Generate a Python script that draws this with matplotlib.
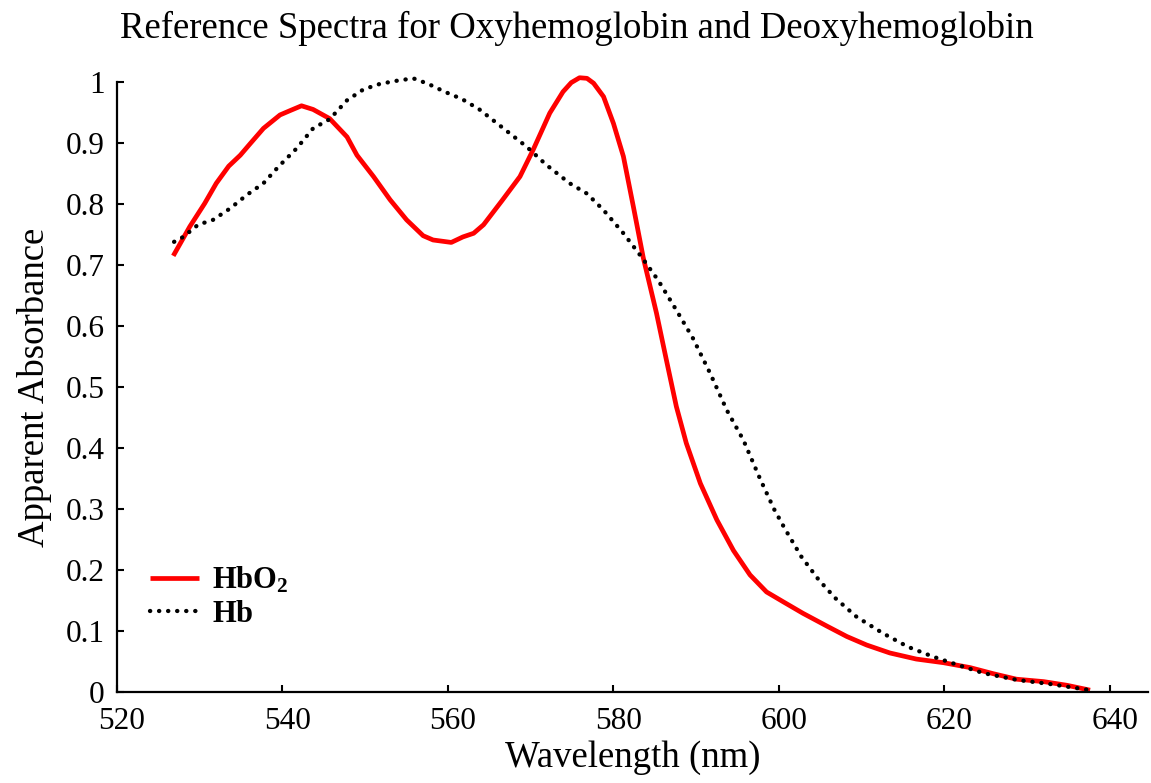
import matplotlib
matplotlib.use('Agg')
import matplotlib.pyplot as plt
from matplotlib.transforms import ScaledTranslation

plt.rcParams['font.family'] = ['Liberation Serif', 'DejaVu Serif']
plt.rcParams['mathtext.fontset'] = 'custom'
plt.rcParams['mathtext.rm'] = 'Liberation Serif'
plt.rcParams['mathtext.bf'] = 'Liberation Serif:bold'

# oxyhemoglobin spectrum (wavelength nm, apparent absorbance)
hbo2_wl = [526.8, 528.8, 530.6, 532.0, 533.5, 534.9, 536.1, 537.7, 539.7, 540.9,
           542.3, 543.7, 545.7, 547.8, 549.0, 551.0, 553.0, 555.0, 557.0, 558.2,
           560.4, 561.8, 563.1, 564.3, 566.5, 568.7, 570.3, 572.3, 573.9, 574.9,
           575.9, 576.8, 577.6, 578.8, 580.0, 581.2, 582.4, 583.6, 585.2, 586.4,
           587.6, 588.8, 590.5, 592.5, 594.5, 596.5, 598.5, 600.5, 602.9, 605.8,
           608.2, 610.6, 613.4, 616.6, 619.9, 623.1, 625.9, 628.7, 632.0, 634.8,
           637.6]
hbo2_abs = [0.715, 0.763, 0.801, 0.834, 0.862, 0.880, 0.899, 0.924, 0.946, 0.953,
            0.961, 0.955, 0.940, 0.910, 0.880, 0.845, 0.807, 0.774, 0.748, 0.741,
            0.737, 0.746, 0.752, 0.766, 0.805, 0.845, 0.889, 0.949, 0.984, 0.999,
            1.007, 1.006, 0.998, 0.976, 0.932, 0.878, 0.796, 0.712, 0.621, 0.544,
            0.468, 0.408, 0.342, 0.282, 0.232, 0.192, 0.164, 0.148, 0.129, 0.108,
            0.091, 0.077, 0.064, 0.054, 0.048, 0.040, 0.030, 0.021, 0.017, 0.011,
            0.003]

# deoxyhemoglobin spectrum
hb_wl = [526.9, 528.0, 529.8, 531.6, 533.7, 535.7, 537.7, 539.5, 541.7, 543.7,
         545.7, 547.8, 549.8, 551.8, 553.8, 555.8, 557.6, 559.6, 561.7, 563.8,
         566.7, 569.5, 571.9, 574.7, 576.8, 578.8, 581.2, 583.4, 585.4, 587.6,
         589.6, 591.7, 593.7, 595.7, 597.7, 599.4, 600.7, 602.7, 604.8, 606.8,
         609.4, 612.6, 615.6, 618.6, 621.7, 624.7, 628.7, 632.8, 637.6]
hb_abs = [0.738, 0.746, 0.766, 0.774, 0.793, 0.815, 0.834, 0.861, 0.891, 0.924,
          0.939, 0.970, 0.988, 0.997, 1.002, 1.006, 0.997, 0.984, 0.972, 0.955,
          0.924, 0.894, 0.864, 0.834, 0.817, 0.790, 0.752, 0.713, 0.675, 0.626,
          0.580, 0.522, 0.462, 0.413, 0.350, 0.300, 0.268, 0.222, 0.184, 0.154,
          0.123, 0.096, 0.074, 0.058, 0.044, 0.031, 0.020, 0.013, 0.003]

x_ticks = [520, 540, 560, 580, 600, 620, 640]
y_ticks = [0, 0.1, 0.2, 0.3, 0.4, 0.5, 0.6, 0.7, 0.8, 0.9, 1]
y_ticklabels = ['0', '0.1', '0.2', '0.3', '0.4', '0.5', '0.6', '0.7', '0.8', '0.9', '1']

fig = plt.figure(figsize=(11.51, 7.83), dpi=100)
ax = fig.add_axes([117 / 1151, 1 - 692 / 783, 1031 / 1151, 610 / 783])

ax.plot(hbo2_wl, hbo2_abs, color='#ff0000', lw=3.4, label=r'$\mathbf{HbO_2}$',
        solid_capstyle='butt', solid_joinstyle='round', clip_on=False)
ax.plot(hb_wl, hb_abs, color='black', lw=3.1, linestyle=(0, (0.05, 2.05)),
        dash_capstyle='round', label=r'$\mathbf{Hb}$', clip_on=False)

ax.set_xlim(520, 644.6)
ax.set_ylim(0, 1)
ax.set_xticks(x_ticks)
ax.set_yticks(y_ticks)
ax.set_yticklabels(y_ticklabels)

for side in ['top', 'right']:
    ax.spines[side].set_visible(False)
for side in ['left', 'bottom']:
    ax.spines[side].set_linewidth(1.6)

ax.tick_params(direction='in', length=5, width=1.5, labelsize=22.5, pad=9)
ax.tick_params(axis='x', pad=11)

# nudge the wavelength labels a little to the right of their ticks
shift = ScaledTranslation(5 / 100, 0, fig.dpi_scale_trans)
for lbl in ax.get_xticklabels():
    lbl.set_transform(lbl.get_transform() + shift)

ax.set_xlabel('Wavelength (nm)', fontsize=26.5, labelpad=3)
ax.set_ylabel('Apparent Absorbance', fontsize=26.5, labelpad=10)
fig.text(0.501, 0.964, 'Reference Spectra for Oxyhemoglobin and Deoxyhemoglobin',
         fontsize=26.5, ha='center', va='center')

ax.legend(loc='lower left', bbox_to_anchor=(0.0116, 0.069), frameon=False,
          fontsize=22, handlelength=1.6, handletextpad=0.43, labelspacing=0.12,
          borderaxespad=0.3)

fig.savefig('out.png', dpi=100)
